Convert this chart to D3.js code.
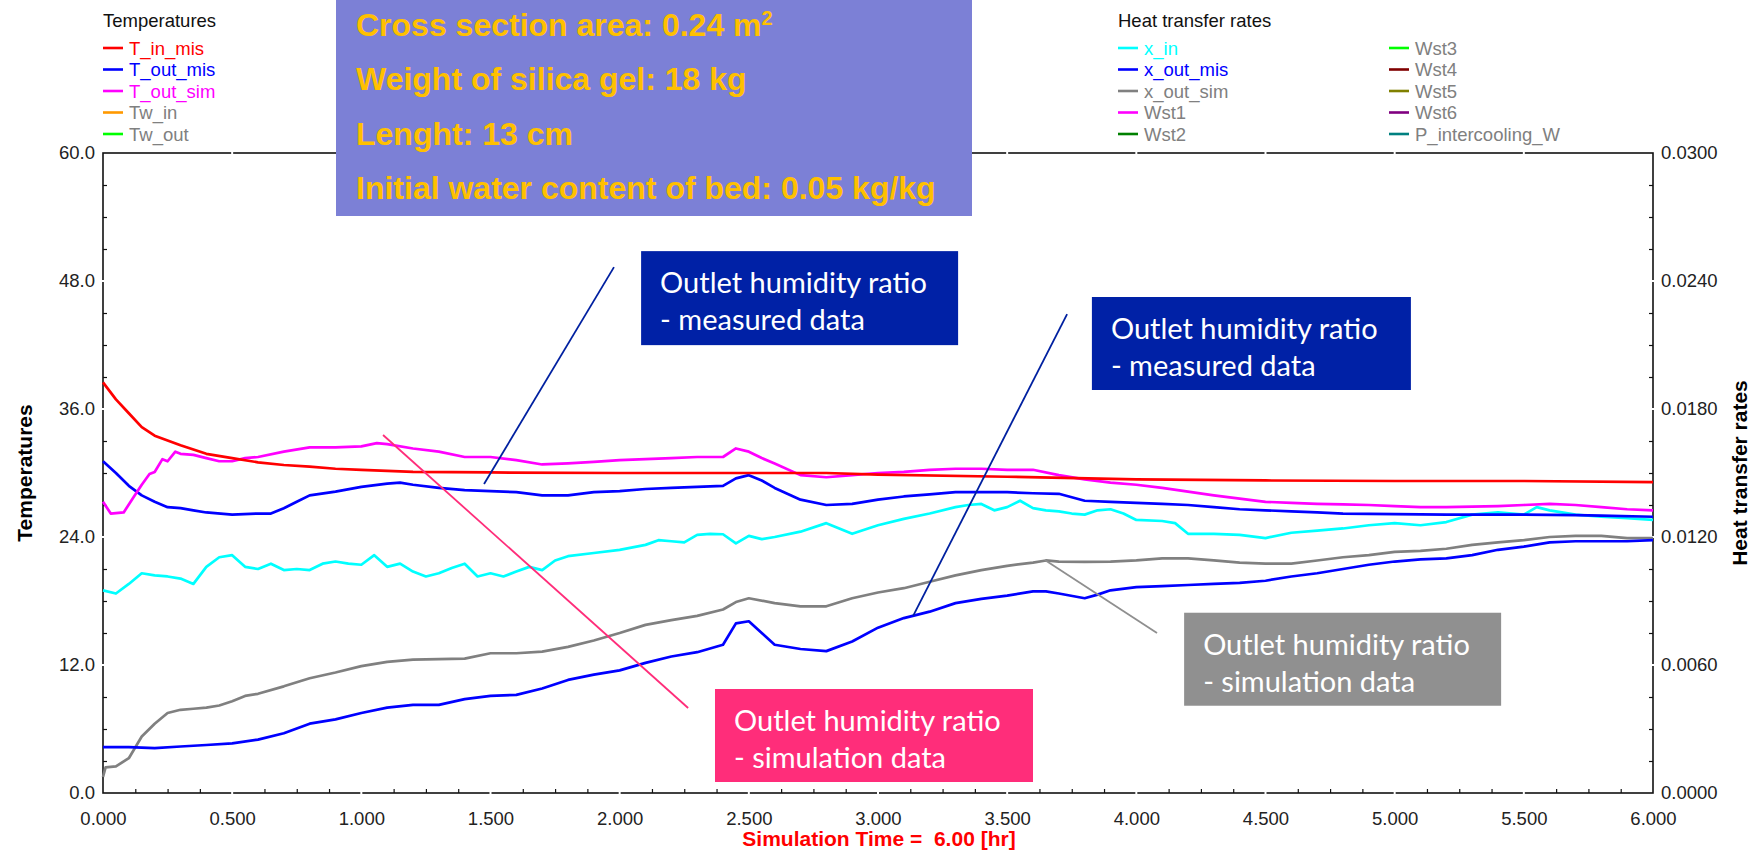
<!DOCTYPE html>
<html>
<head>
<meta charset="utf-8">
<script src="https://cdn.jsdelivr.net/npm/d3@7"></script>
<style>
  body { margin: 0; background: #fff; }
  svg { display: block; font-family: "Liberation Sans", Arial, sans-serif; }
  .note { font-family: Lato, "Open Sans", sans-serif; }
</style>
</head>
<body>
<svg id="chart" width="1756" height="856"></svg>
<script>
// ---- data: [time hr, value] ----
// temperatures (left axis, degC)
const tInMis = [[0,38.5],[0.05,36.9],[0.1,35.6],[0.15,34.3],[0.2,33.5],[0.3,32.6],[0.4,31.8],[0.5,31.4],
  [0.6,31.0],[0.7,30.75],[0.8,30.6],[0.9,30.4],[1.0,30.3],[1.2,30.1],[1.5,30.05],[2.0,30.0],[2.5,30.0],
  [2.8,30.0],[3.0,29.85],[3.5,29.65],[4.0,29.4],[4.5,29.3],[5.0,29.25],[5.5,29.25],[6.0,29.15]];

const tOutMis = [[0,31.1],[0.05,30.0],[0.1,28.8],[0.15,27.9],[0.2,27.3],[0.25,26.8],[0.3,26.7],[0.35,26.5],
  [0.4,26.3],[0.5,26.1],[0.6,26.2],[0.65,26.2],[0.7,26.7],[0.75,27.3],[0.8,27.9],[0.9,28.25],[1.0,28.7],
  [1.1,29.0],[1.15,29.1],[1.2,28.9],[1.3,28.6],[1.4,28.4],[1.5,28.3],[1.6,28.2],[1.7,27.9],[1.8,27.9],
  [1.9,28.2],[2.0,28.3],[2.1,28.5],[2.2,28.6],[2.3,28.7],[2.4,28.8],[2.45,29.5],[2.5,29.8],[2.55,29.3],
  [2.6,28.6],[2.7,27.5],[2.8,27.0],[2.9,27.1],[3.0,27.5],[3.1,27.8],[3.2,28.0],[3.3,28.2],[3.4,28.2],
  [3.5,28.2],[3.6,28.1],[3.7,28.05],[3.8,27.4],[3.9,27.3],[4.0,27.2],[4.1,27.1],[4.2,27.0],[4.3,26.8],
  [4.4,26.6],[4.5,26.5],[4.6,26.4],[4.7,26.3],[4.8,26.2],[5.0,26.15],[5.2,26.1],[5.5,26.1],[5.7,26.05],
  [5.8,26.0],[6.0,25.9]];

const tOutSim = [[0,27.3],[0.03,26.2],[0.08,26.3],[0.12,27.8],[0.15,28.9],[0.18,29.9],[0.2,30.1],[0.23,31.3],
  [0.25,31.1],[0.28,32.0],[0.3,31.8],[0.35,31.7],[0.4,31.4],[0.45,31.1],[0.5,31.1],[0.55,31.4],[0.6,31.5],
  [0.7,32.0],[0.8,32.4],[0.9,32.4],[1.0,32.5],[1.06,32.8],[1.1,32.7],[1.2,32.3],[1.3,32.0],[1.4,31.5],
  [1.5,31.5],[1.6,31.2],[1.7,30.8],[1.8,30.9],[1.9,31.05],[2.0,31.2],[2.1,31.3],[2.2,31.4],[2.3,31.5],
  [2.4,31.5],[2.45,32.3],[2.5,32.0],[2.55,31.4],[2.6,30.9],[2.7,29.8],[2.8,29.6],[2.9,29.8],[3.0,30.0],
  [3.1,30.1],[3.2,30.3],[3.3,30.4],[3.4,30.4],[3.5,30.3],[3.6,30.3],[3.7,29.8],[3.8,29.4],[3.9,29.1],
  [4.0,28.9],[4.1,28.6],[4.2,28.25],[4.3,27.9],[4.4,27.6],[4.5,27.3],[4.6,27.2],[4.7,27.1],[4.8,27.05],
  [4.9,27.0],[5.0,26.9],[5.1,26.8],[5.2,26.8],[5.3,26.85],[5.4,26.9],[5.5,27.0],[5.6,27.1],[5.7,27.0],
  [5.8,26.8],[5.9,26.6],[6.0,26.5]];

// humidity ratios (right axis, kg/kg)
const xIn = [[0,0.00950],[0.05,0.00935],[0.1,0.00980],[0.15,0.01030],[0.2,0.01020],[0.25,0.01015],[0.3,0.01005],
  [0.35,0.00980],[0.4,0.01060],[0.45,0.01105],[0.5,0.01115],[0.55,0.01060],[0.6,0.01050],[0.65,0.01075],
  [0.7,0.01045],[0.75,0.01050],[0.8,0.01045],[0.85,0.01075],[0.9,0.01085],[0.95,0.01075],[1.0,0.01070],
  [1.05,0.01115],[1.1,0.01060],[1.15,0.01075],[1.2,0.01038],[1.25,0.01015],[1.3,0.01030],[1.35,0.01055],
  [1.4,0.01075],[1.45,0.01015],[1.5,0.01030],[1.55,0.01015],[1.6,0.01038],[1.65,0.01060],[1.7,0.01045],
  [1.75,0.01090],[1.8,0.01110],[1.9,0.01125],[2.0,0.01140],[2.1,0.01163],[2.15,0.01185],[2.2,0.01180],
  [2.25,0.01175],[2.3,0.01210],[2.35,0.01215],[2.4,0.01213],[2.45,0.01170],[2.5,0.01205],[2.55,0.01190],
  [2.6,0.01200],[2.7,0.01225],[2.8,0.01265],[2.85,0.01240],[2.9,0.01215],[3.0,0.01255],[3.1,0.01285],
  [3.2,0.01310],[3.3,0.01340],[3.35,0.01350],[3.4,0.01355],[3.45,0.01325],[3.5,0.01340],[3.55,0.01370],
  [3.6,0.01335],[3.65,0.01325],[3.7,0.01320],[3.75,0.01310],[3.8,0.01305],[3.85,0.01325],[3.9,0.01330],
  [3.95,0.01310],[4.0,0.01280],[4.1,0.01275],[4.15,0.01265],[4.2,0.01215],[4.3,0.01215],[4.4,0.01210],
  [4.5,0.01195],[4.6,0.01220],[4.7,0.01230],[4.8,0.01240],[4.9,0.01255],[5.0,0.01265],[5.1,0.01255],
  [5.2,0.01270],[5.3,0.01305],[5.4,0.01315],[5.5,0.01305],[5.55,0.01340],[5.6,0.01325],[5.7,0.01305],
  [5.8,0.01295],[5.9,0.01288],[6.0,0.01280]];

const xOutMis = [[0,0.00215],[0.1,0.00215],[0.2,0.00210],[0.3,0.00218],[0.4,0.00225],[0.5,0.00233],[0.6,0.00250],
  [0.7,0.00280],[0.8,0.00325],[0.9,0.00345],[1.0,0.00375],[1.1,0.00400],[1.2,0.00413],[1.3,0.00413],
  [1.4,0.00440],[1.5,0.00455],[1.6,0.00460],[1.7,0.00490],[1.8,0.00530],[1.9,0.00555],[2.0,0.00575],
  [2.1,0.00610],[2.2,0.00640],[2.3,0.00660],[2.4,0.00695],[2.45,0.00795],[2.5,0.00805],[2.55,0.00750],
  [2.6,0.00695],[2.7,0.00675],[2.8,0.00665],[2.9,0.00710],[3.0,0.00775],[3.1,0.00820],[3.2,0.00850],
  [3.3,0.00890],[3.4,0.00910],[3.5,0.00925],[3.6,0.00945],[3.65,0.00945],[3.7,0.00935],[3.8,0.00913],
  [3.85,0.00930],[3.9,0.00950],[4.0,0.00965],[4.1,0.00970],[4.2,0.00975],[4.3,0.00980],[4.4,0.00985],
  [4.5,0.00995],[4.6,0.01015],[4.7,0.01030],[4.8,0.01050],[4.9,0.01070],[5.0,0.01085],[5.1,0.01095],
  [5.2,0.01100],[5.3,0.01115],[5.4,0.01140],[5.5,0.01155],[5.6,0.01175],[5.7,0.01180],[5.8,0.01180],
  [5.9,0.01180],[6.0,0.01185]];

const xOutSim = [[0,0.00075],[0.01,0.00120],[0.05,0.00125],[0.1,0.00163],[0.15,0.00265],[0.2,0.00325],
  [0.25,0.00375],[0.3,0.00390],[0.35,0.00395],[0.4,0.00400],[0.45,0.00410],[0.5,0.00430],[0.55,0.00455],
  [0.6,0.00465],[0.7,0.00500],[0.8,0.00538],[0.9,0.00565],[1.0,0.00595],[1.1,0.00615],[1.2,0.00625],
  [1.3,0.00628],[1.4,0.00630],[1.5,0.00655],[1.6,0.00655],[1.7,0.00663],[1.8,0.00685],[1.9,0.00715],
  [2.0,0.00750],[2.1,0.00788],[2.2,0.00810],[2.3,0.00830],[2.4,0.00860],[2.45,0.00895],[2.5,0.00913],
  [2.6,0.00890],[2.7,0.00875],[2.8,0.00875],[2.9,0.00913],[3.0,0.00940],[3.1,0.00960],[3.2,0.00990],
  [3.3,0.01020],[3.4,0.01045],[3.5,0.01065],[3.6,0.01080],[3.65,0.01090],[3.7,0.01085],[3.8,0.01083],
  [3.9,0.01085],[4.0,0.01090],[4.1,0.01100],[4.2,0.01100],[4.3,0.01090],[4.4,0.01080],[4.5,0.01075],
  [4.6,0.01075],[4.7,0.01090],[4.8,0.01105],[4.9,0.01115],[5.0,0.01130],[5.1,0.01135],[5.2,0.01145],
  [5.3,0.01163],[5.4,0.01175],[5.5,0.01185],[5.6,0.01200],[5.7,0.01205],[5.8,0.01205],[5.9,0.01195],
  [6.0,0.01195]];

// ticks
const xTicks = [0, 0.5, 1, 1.5, 2, 2.5, 3, 3.5, 4, 4.5, 5, 5.5, 6];
const yTicksLeft = [0, 12, 24, 36, 48, 60];
const yTicksRight = [0, 0.006, 0.012, 0.018, 0.024, 0.030];

// legends
const tempNames = ["T_in_mis", "T_out_mis", "T_out_sim", "Tw_in", "Tw_out"];
const tempLineColors = ["#ff0000", "#0000ff", "#ff00ff", "#ff9900", "#00ff00"];
const tempTextColors = ["#ff0000", "#0000ff", "#ff00ff", "#808080", "#808080"];
const heatNames = ["x_in", "x_out_mis", "x_out_sim", "Wst1", "Wst2", "Wst3", "Wst4", "Wst5", "Wst6", "P_intercooling_W"];
const heatLineColors = ["#00ffff", "#0000ff", "#808080", "#ff00ff", "#008000", "#00ff00", "#800000", "#808000", "#800080", "#008080"];
const heatTextColors = ["#00ffff", "#0000ff", "#808080", "#808080", "#808080", "#808080", "#808080", "#808080", "#808080", "#808080"];

// annotations
const infoLines = ["Cross section area: 0.24 m", "Weight of silica gel: 18 kg", "Lenght: 13 cm", "Initial water content of bed: 0.05 kg/kg"];
const noteLine1 = "Outlet humidity ratio";
const noteMeasured = "- measured data";
const noteSimulated = "- simulation data";

// ---- layout ----
const L = 103, R = 1653, T = 153, B = 793;

const svg = d3.select("#chart");

const x = d3.scaleLinear().domain([0, 6]).range([L, R]);
const yL = d3.scaleLinear().domain([0, 60]).range([B, T]);
const yR = d3.scaleLinear().domain([0, 0.03]).range([B, T]);

// frame
svg.append("rect")
  .attr("x", L).attr("y", T)
  .attr("width", R - L).attr("height", B - T)
  .attr("fill", "none").attr("stroke", "#111").attr("stroke-width", 1.6);

// white grid at major ticks (shows as small breaks in the frame)
const grid = svg.append("g").attr("stroke", "#fff").attr("stroke-width", 2);
grid.selectAll(".gx").data(xTicks.slice(1, -1)).enter().append("line")
  .attr("x1", d => x(d)).attr("x2", d => x(d)).attr("y1", T - 3).attr("y2", B + 3);
grid.selectAll(".gy").data(yTicksLeft.slice(1, -1)).enter().append("line")
  .attr("x1", L - 3).attr("x2", R + 3).attr("y1", d => yL(d)).attr("y2", d => yL(d));

// minor ticks pointing inward
const xMinor = d3.range(0, 6.001, 0.125).filter(d => Math.abs(d * 2 - Math.round(d * 2)) > 1e-6);
const yMinorL = d3.range(0, 60.001, 3).filter(d => d % 12 !== 0);
const yMinorR = yMinorL.map(d => d / 2000);

function minor(g) {
  g.select(".domain").remove();
  g.selectAll(".tick line").attr("stroke", "#111").attr("stroke-width", 1.2);
}
svg.append("g").attr("transform", `translate(0,${B})`)
  .call(d3.axisBottom(x).tickValues(xMinor).tickSize(-4).tickFormat("")).call(minor);
svg.append("g").attr("transform", `translate(${L},0)`)
  .call(d3.axisLeft(yL).tickValues(yMinorL).tickSize(-4).tickFormat("")).call(minor);
svg.append("g").attr("transform", `translate(${R},0)`)
  .call(d3.axisRight(yR).tickValues(yMinorR).tickSize(-4).tickFormat("")).call(minor);

// tick labels
function labels(g) {
  g.select(".domain").remove();
  g.attr("font-family", null).attr("font-size", null);
  g.selectAll("text").attr("font-size", 18.5).attr("fill", "#222");
}
svg.append("g").attr("transform", `translate(0,${B})`)
  .call(d3.axisBottom(x).tickValues(xTicks).tickSize(0).tickPadding(19).tickFormat(d3.format(".3f")))
  .call(labels);
svg.append("g").attr("transform", `translate(${L},0)`)
  .call(d3.axisLeft(yL).tickValues(yTicksLeft).tickSize(0).tickPadding(8).tickFormat(d3.format(".1f")))
  .call(labels);
svg.append("g").attr("transform", `translate(${R},0)`)
  .call(d3.axisRight(yR).tickValues(yTicksRight).tickSize(0).tickPadding(8).tickFormat(d3.format(".4f")))
  .call(labels);

// axis titles
svg.append("text")
  .attr("transform", `translate(32,${(T + B) / 2}) rotate(-90)`)
  .attr("text-anchor", "middle").attr("font-weight", "bold").attr("font-size", 21)
  .text("Temperatures");
svg.append("text")
  .attr("transform", `translate(1747,${(T + B) / 2}) rotate(-90)`)
  .attr("text-anchor", "middle").attr("font-weight", "bold").attr("font-size", 21)
  .text("Heat transfer rates");
svg.append("text")
  .attr("x", 879).attr("y", 846)
  .attr("text-anchor", "middle").attr("font-weight", "bold").attr("font-size", 21)
  .attr("fill", "#ff0000").style("white-space", "pre")
  .text("Simulation Time =  6.00 [hr]");

// data lines
const lineL = d3.line().x(d => x(d[0])).y(d => yL(d[1]));
const lineR = d3.line().x(d => x(d[0])).y(d => yR(d[1]));
const series = [
  { data: xOutSim, gen: lineR, color: "#808080" },
  { data: xOutMis, gen: lineR, color: "#0000ff" },
  { data: xIn, gen: lineR, color: "#00ffff" },
  { data: tOutMis, gen: lineL, color: "#0000ff" },
  { data: tOutSim, gen: lineL, color: "#ff00ff" },
  { data: tInMis, gen: lineL, color: "#ff0000" }
];
svg.append("g").selectAll("path").data(series).enter().append("path")
  .attr("d", s => s.gen(s.data))
  .attr("fill", "none").attr("stroke", s => s.color)
  .attr("stroke-width", 2.7).attr("stroke-linejoin", "round");

// leader lines (data coordinates, left scale)
const leaders = [
  { a: [1.978, 49.3], b: [1.475, 28.97], color: "#0020a0" },
  { a: [3.732, 44.9], b: [3.136, 16.6], color: "#0020a0" },
  { a: [3.646, 21.84], b: [4.080, 15.0], color: "#8f8f8f" },
  { a: [1.084, 33.56], b: [2.265, 7.97], color: "#ff2d7a" }
];
svg.append("g").selectAll("line").data(leaders).enter().append("line")
  .attr("x1", d => x(d.a[0])).attr("y1", d => yL(d.a[1]))
  .attr("x2", d => x(d.b[0])).attr("y2", d => yL(d.b[1]))
  .attr("stroke", d => d.color).attr("stroke-width", 1.8);

// callout boxes
const notes = [
  { t: 2.083, v: 50.8, w: 317, h: 94, fill: "#0021a6", sub: noteMeasured },
  { t: 3.828, v: 46.5, w: 319, h: 93, fill: "#0021a6", sub: noteMeasured },
  { t: 4.185, v: 16.9, w: 317, h: 93, fill: "#909090", sub: noteSimulated },
  { t: 2.369, v: 9.75, w: 318, h: 93, fill: "#ff2d7a", sub: noteSimulated }
];
const ng = svg.append("g").attr("class", "note").selectAll("g").data(notes).enter().append("g")
  .attr("transform", d => `translate(${x(d.t)},${yL(d.v)})`);
ng.append("rect").attr("width", d => d.w).attr("height", d => d.h).attr("fill", d => d.fill);
ng.append("text").attr("x", 19).attr("y", 42)
  .attr("font-size", 29).attr("fill", "#fff")
  .text(noteLine1);
ng.append("text").attr("x", 19).attr("y", 79)
  .attr("font-size", 29).attr("fill", "#fff")
  .text(d => d.sub);

// info box
svg.append("rect").attr("x", 336).attr("y", 0).attr("width", 636).attr("height", 216).attr("fill", "#7c80d6");
const infoY = [36, 90, 145, 199];
const info = svg.append("g").selectAll("text").data(infoLines).enter().append("text")
  .attr("x", 356).attr("y", (d, i) => infoY[i])
  .attr("font-weight", "bold").attr("font-size", 32).attr("fill", "#ffc000")
  .text(d => d);
info.filter((d, i) => i === 0).append("tspan")
  .attr("font-size", 20).attr("dy", -11).text("2");

// legends
function legend(x0, y0, names, lineColors, textColors) {
  const g = svg.append("g");
  g.selectAll("line").data(names).enter().append("line")
    .attr("x1", x0).attr("x2", x0 + 20)
    .attr("y1", (d, i) => y0 + i * 21.5).attr("y2", (d, i) => y0 + i * 21.5)
    .attr("stroke", (d, i) => lineColors[i]).attr("stroke-width", 2.6);
  g.selectAll("text").data(names).enter().append("text")
    .attr("x", x0 + 26).attr("y", (d, i) => y0 + i * 21.5 + 6.5)
    .attr("font-size", 18.5).attr("fill", (d, i) => textColors[i])
    .text(d => d);
}
svg.append("text").attr("x", 103).attr("y", 27).attr("font-size", 18.5).attr("fill", "#111").text("Temperatures");
legend(103, 48, tempNames, tempLineColors, tempTextColors);
svg.append("text").attr("x", 1118).attr("y", 27).attr("font-size", 18.5).attr("fill", "#111").text("Heat transfer rates");
legend(1118, 48, heatNames.slice(0, 5), heatLineColors.slice(0, 5), heatTextColors.slice(0, 5));
legend(1389, 48, heatNames.slice(5), heatLineColors.slice(5), heatTextColors.slice(5));
</script>
</body>
</html>
